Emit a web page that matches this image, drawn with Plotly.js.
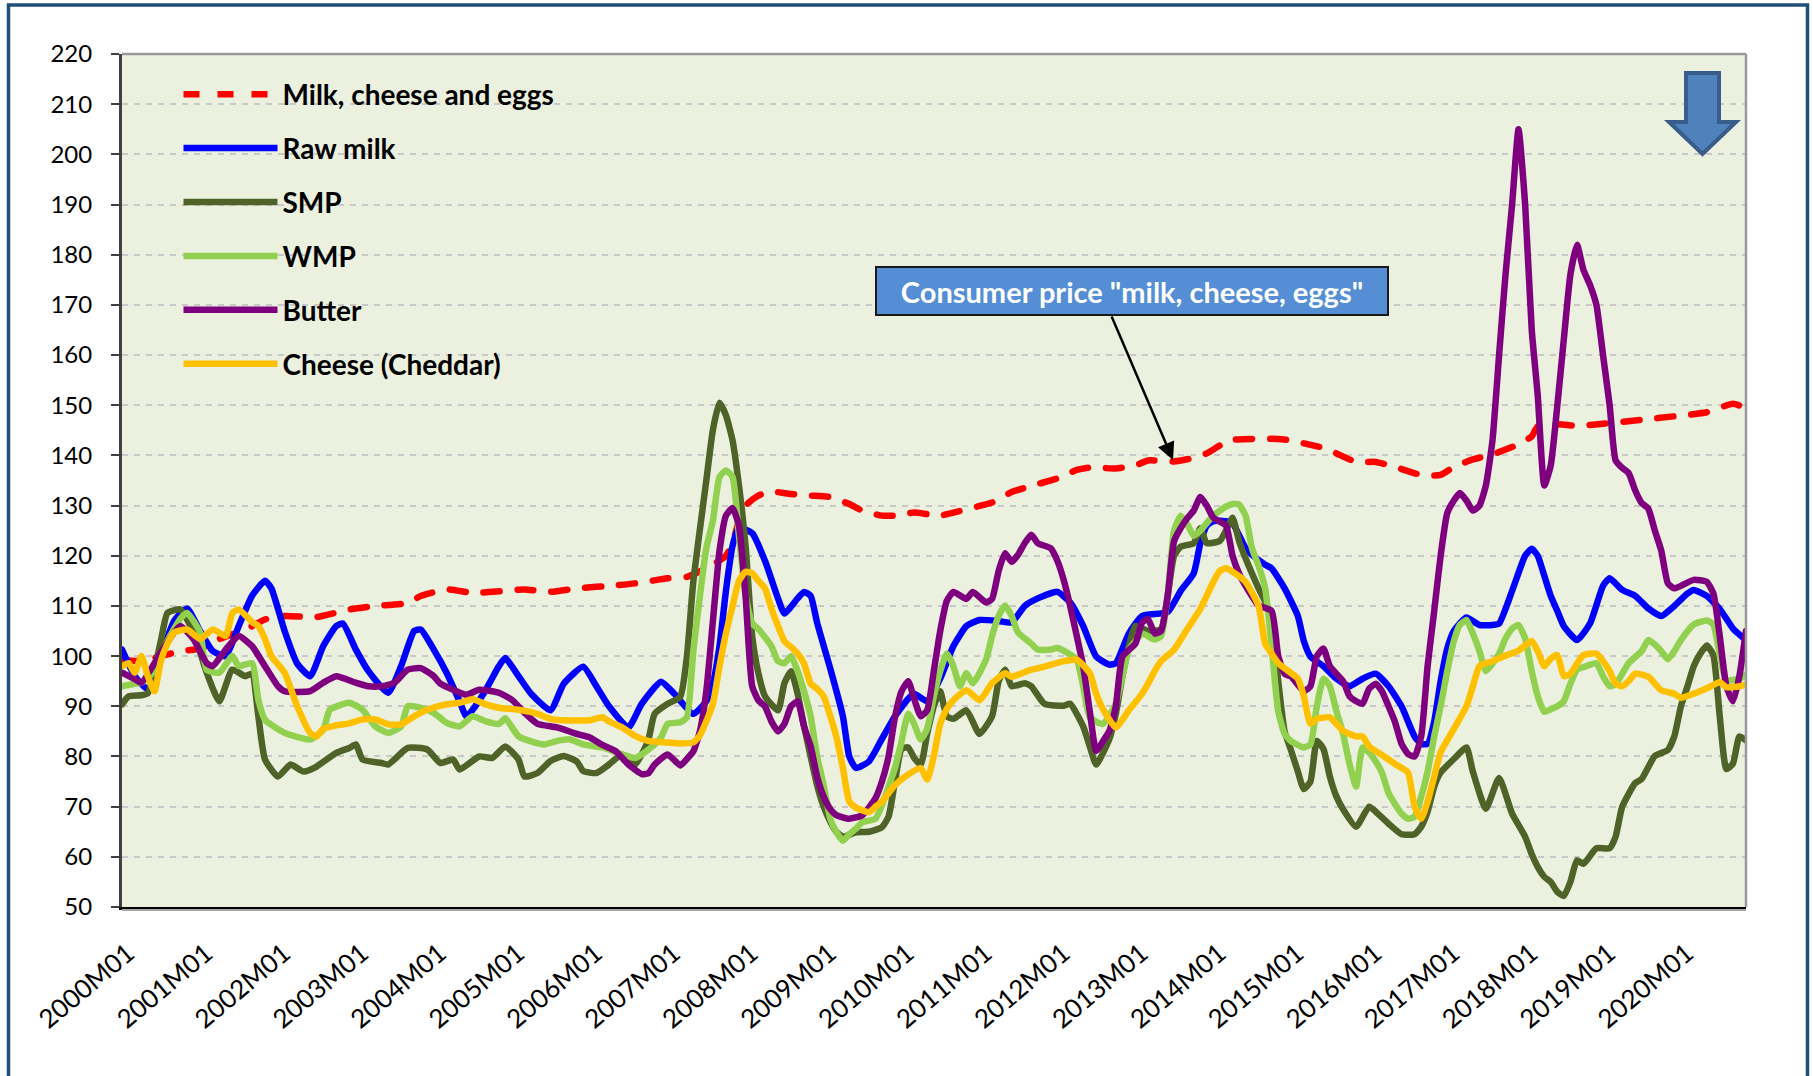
<!DOCTYPE html>
<html>
<head>
<meta charset="utf-8">
<script src="https://cdn.plot.ly/plotly-3.0.1.min.js"></script>
<style>
html, body { margin: 0; padding: 0; background: #ffffff; }
#chart { width: 1813px; height: 1076px; }
#chart .scatterlayer path.js-line { stroke-linecap: round; stroke-linejoin: round; }
</style>
</head>
<body>
<div id="chart"></div>
<script>
// ---------- DATA ----------
const tickLabels = ["2000M01","2001M01","2002M01","2003M01","2004M01","2005M01","2006M01","2007M01","2008M01","2009M01","2010M01","2011M01","2012M01","2013M01","2014M01","2015M01","2016M01","2017M01","2018M01","2019M01","2020M01"];

const seriesNames = ["Milk, cheese and eggs","Raw milk","SMP","WMP","Butter","Cheese (Cheddar)"];

const cpiMonths = ["2000M01","2000M04","2000M07","2000M10","2001M01","2001M04","2001M08","2001M11","2002M02","2002M07","2002M12","2003M04","2003M09","2003M11","2004M03","2004M07","2004M12","2005M03","2005M07","2005M11","2006M05","2006M08","2007M01","2007M04","2007M07","2007M10","2007M11","2007M12","2008M01","2008M03","2008M05","2008M08","2008M11","2009M02","2009M05","2009M07","2009M10","2009M12","2010M03","2010M05","2010M07","2010M09","2010M12","2011M03","2011M06","2011M10","2012M01","2012M04","2012M06","2012M10","2013M01","2013M03","2013M07","2013M10","2013M12","2014M02","2014M04","2014M10","2015M01","2015M03","2015M06","2015M08","2015M11","2016M02","2016M05","2016M09","2016M12","2017M02","2017M05","2017M08","2017M12","2018M02","2018M03","2018M05","2018M09","2019M01","2019M07","2019M12","2020M05","2020M09","2020M11"];
const cpiValues = [99.3,99,100,101,101.5,103.4,105.3,107.3,108,107.8,109.3,110,110.6,112,113.3,112.6,113,113.3,112.8,113.5,114.1,114.5,115.5,115.8,117.5,120,122.5,127,130,132,132.8,132.3,132,131.7,130.3,129,128,128,128.6,128.3,128,128.6,129.6,130.6,132.7,134.3,135.4,137.1,137.6,137.4,138,139,138.8,139.5,140.4,142,143.1,143.3,143,142.4,141.5,140.4,138.7,138.7,137.7,136.1,136.1,137.7,139.2,140.2,142.2,143.8,145.8,146.3,145.9,146.3,147.1,147.8,148.6,150.3,149.4];

const rawMilkMonths = ["2000M01","2000M03","2000M05","2000M07","2000M09","2000M11","2001M01","2001M03","2001M05","2001M07","2001M09","2001M11","2001M12","2002M02","2002M04","2002M06","2002M08","2002M10","2002M11","2003M01","2003M03","2003M06","2003M08","2003M10","2003M11","2004M01","2004M03","2004M05","2004M06","2004M07","2004M09","2004M11","2004M12","2005M02","2005M04","2005M07","2005M09","2005M12","2006M02","2006M04","2006M07","2006M09","2006M12","2007M02","2007M05","2007M07","2007M08","2007M09","2007M10","2007M11","2007M12","2008M02","2008M04","2008M06","2008M07","2008M09","2008M10","2008M11","2008M12","2009M02","2009M04","2009M05","2009M06","2009M08","2009M10","2009M12","2010M02","2010M03","2010M05","2010M07","2010M09","2010M11","2011M01","2011M04","2011M06","2011M08","2011M10","2012M01","2012M03","2012M05","2012M07","2012M09","2012M10","2012M12","2013M02","2013M06","2013M08","2013M10","2013M11","2013M12","2014M01","2014M03","2014M04","2014M06","2014M07","2014M09","2014M10","2014M12","2015M02","2015M03","2015M04","2015M06","2015M08","2015M10","2015M12","2016M02","2016M04","2016M06","2016M08","2016M09","2016M10","2016M11","2016M12","2017M01","2017M02","2017M04","2017M06","2017M08","2017M09","2017M11","2018M01","2018M02","2018M03","2018M04","2018M05","2018M06","2018M07","2018M09","2018M11","2019M01","2019M02","2019M04","2019M06","2019M08","2019M10","2019M12","2020M02","2020M03","2020M05","2020M07","2020M09","2020M11"];
const rawMilkValues = [101.3,96,93.4,100,107,109.5,105,101,100,106,112,115,113.5,105,98.5,96,102,106,106.5,101.3,97,92.7,98,105,105.3,101.3,96.7,91,88,89.3,93.3,98,99.6,96,92.5,89.2,94.5,97.9,94,90,85.8,90.5,94.9,92.5,88.5,91,94.5,102,113,122,125.6,124.5,119,111.5,108.5,111.5,112.8,112,106.7,97.5,88,80,77.7,79,83.5,88,91.5,92.5,91,95.5,102,106,107.2,107,106.7,110,111.5,112.8,110.7,106,99.9,98.3,98.6,104.5,108,108.8,113,116.5,122.5,126,126.9,126.9,126.5,121.5,120.2,118.2,117.5,113.5,108,103,99.9,98,95.5,94,95.5,96.5,94,90,84,82.5,82.5,87,95,101.5,105,107.7,106.2,106.2,106.5,113,120,121.4,120,116,112,109,106,103.2,106.5,114,115.5,113.2,112,109.5,108,110,112.5,113.2,112,109.4,105.5,103.2];

const smpMonths = ["2000M01","2000M02","2000M04","2000M05","2000M07","2000M08","2000M10","2000M12","2001M02","2001M04","2001M06","2001M08","2001M09","2001M10","2001M11","2002M01","2002M03","2002M05","2002M07","2002M10","2002M12","2003M01","2003M02","2003M05","2003M06","2003M09","2003M12","2004M02","2004M04","2004M05","2004M08","2004M10","2004M12","2005M02","2005M03","2005M05","2005M07","2005M09","2005M11","2005M12","2006M02","2006M04","2006M06","2006M08","2006M10","2006M11","2007M01","2007M03","2007M04","2007M05","2007M07","2007M08","2007M09","2007M10","2007M11","2007M12","2008M01","2008M02","2008M03","2008M04","2008M06","2008M07","2008M08","2008M09","2008M10","2008M11","2008M12","2009M01","2009M02","2009M03","2009M04","2009M06","2009M08","2009M10","2009M11","2009M12","2010M01","2010M02","2010M03","2010M04","2010M05","2010M06","2010M07","2010M08","2010M09","2010M11","2011M01","2011M03","2011M04","2011M05","2011M06","2011M08","2011M09","2011M11","2012M02","2012M03","2012M05","2012M06","2012M07","2012M09","2012M10","2012M11","2012M12","2013M01","2013M03","2013M05","2013M06","2013M07","2013M08","2013M10","2013M11","2013M12","2014M02","2014M03","2014M04","2014M05","2014M06","2014M08","2014M10","2014M11","2014M12","2015M01","2015M02","2015M03","2015M04","2015M05","2015M06","2015M07","2015M08","2015M09","2015M11","2016M01","2016M02","2016M04","2016M06","2016M08","2016M09","2016M10","2016M11","2016M12","2017M02","2017M04","2017M05","2017M07","2017M09","2017M11","2018M01","2018M02","2018M03","2018M04","2018M05","2018M06","2018M07","2018M08","2018M09","2018M10","2018M12","2019M02","2019M03","2019M04","2019M06","2019M07","2019M09","2019M11","2019M12","2020M01","2020M02","2020M03","2020M04","2020M05","2020M06","2020M07","2020M08","2020M09","2020M10","2020M11"];
const smpValues = [90.4,92,92.2,92.6,103,108.6,109.3,104.7,96.7,91,97.3,96,96.5,88,79.4,76,78.4,77,78,80.7,81.7,82.4,79.4,78.7,78.4,81.7,81.4,78.7,79.4,77.4,80,79.7,82,79.4,76,76.7,79.1,80.1,79,77.1,76.7,78.4,80.4,78.4,83.1,88.5,90.5,91.9,99.9,114.8,135,145.1,150.5,148,143,134,122,104,96.6,92,89.2,94.6,97,92.5,86,80,74.3,70,67,65,64,64.9,65,65.9,68,75,81.5,81.8,79.7,78.4,84.5,90,93,88,87.5,89.2,84.5,88,95,97.3,94,94.6,94,90.5,90.1,90.5,86,82,78.4,83.5,88.5,96,102,106,105,105.4,112,120,121.8,122.5,125.5,122.5,123,125,127.6,123,119.5,113.5,108,95,85,81.1,77,73.5,75,83.1,81.5,76,72,69.5,66,70,69,66.6,64.5,64.5,66,69,74,76.8,79.5,81.8,77,69.6,75.7,68.6,64,60.5,58,56,55,53,52.2,55,59.3,58.6,61.7,61.7,64,70,74.7,75.5,80.1,81.3,84,90,94,98,100.5,102.1,100.2,88,77.5,78.6,84,83.2];

const wmpMonths = ["2000M01","2000M03","2000M04","2000M06","2000M08","2000M10","2000M11","2001M01","2001M02","2001M04","2001M06","2001M07","2001M09","2001M10","2001M11","2002M02","2002M06","2002M08","2002M09","2002M12","2003M02","2003M04","2003M06","2003M08","2003M09","2003M11","2004M01","2004M03","2004M05","2004M07","2004M09","2004M11","2004M12","2005M02","2005M04","2005M06","2005M08","2005M10","2005M12","2006M03","2006M06","2006M08","2006M09","2006M11","2006M12","2007M01","2007M03","2007M04","2007M05","2007M06","2007M07","2007M08","2007M09","2007M10","2007M11","2007M12","2008M01","2008M02","2008M03","2008M05","2008M06","2008M07","2008M08","2008M09","2008M10","2008M11","2008M12","2009M01","2009M02","2009M03","2009M04","2009M05","2009M06","2009M07","2009M09","2009M10","2009M11","2009M12","2010M01","2010M02","2010M03","2010M04","2010M05","2010M06","2010M07","2010M08","2010M09","2010M10","2010M11","2010M12","2011M02","2011M03","2011M04","2011M05","2011M06","2011M07","2011M09","2011M10","2011M12","2012M01","2012M03","2012M04","2012M05","2012M06","2012M08","2012M10","2012M11","2012M12","2013M01","2013M02","2013M04","2013M05","2013M06","2013M07","2013M08","2013M09","2013M10","2013M11","2013M12","2014M01","2014M03","2014M04","2014M05","2014M06","2014M07","2014M08","2014M09","2014M10","2014M11","2014M12","2015M01","2015M03","2015M04","2015M05","2015M06","2015M07","2015M08","2015M09","2015M10","2015M11","2015M12","2016M01","2016M02","2016M03","2016M04","2016M06","2016M07","2016M08","2016M09","2016M10","2016M11","2016M12","2017M01","2017M02","2017M03","2017M04","2017M05","2017M06","2017M07","2017M08","2017M09","2017M10","2017M11","2017M12","2018M01","2018M02","2018M03","2018M04","2018M05","2018M06","2018M07","2018M08","2018M09","2018M10","2018M12","2019M01","2019M02","2019M03","2019M05","2019M07","2019M08","2019M09","2019M10","2019M11","2019M12","2020M01","2020M03","2020M05","2020M06","2020M07","2020M08","2020M10","2020M11"];
const wmpValues = [94,94.5,94.7,97,103,107.5,108.6,104.7,97.3,96.7,100,98,98.6,91.3,87.3,84.7,83.4,85.3,89.3,90.7,89.3,86,84.7,86,90,89.7,88.7,86.7,86,88,87,86.5,87.6,84,83,82.4,83.1,83.4,82.4,81.8,80.4,79.7,80.4,82.4,83.8,86.5,86.8,87.8,101,112,121.5,127,135.7,137,135.7,124,112,106.5,105.4,102,99,98.6,100,97,93,88,80,74.3,67.6,65,63.2,64.5,65.6,66.9,67.6,70.3,74,77.7,83,88.5,86.5,83.4,85.5,92,97,100.5,98,94,96.6,94.6,99.3,104,108,110.1,108,104.7,102.5,101.3,101.3,101.6,100.3,99.3,94,87.8,86.5,90.5,96,101.3,103,104.5,103.3,104,112,125,128,126.3,124,125,126.5,128,129.8,130.3,130.2,128,121.5,118,113.5,102,89,84.5,83,81.8,82.4,90,95.5,94,89,84.5,78.5,74,81.8,80.8,79,76.8,72.7,68.6,67.6,68,72,77,84,90,97,103,106.2,107.2,104.5,101,97,98.5,100.5,103.5,105.5,106.2,103.5,97,92,88.9,89.4,90,91,94.5,97.3,97.8,98.6,96,94,94.4,98.6,101,103.2,102.3,101,99.4,101,103.2,106.3,107.1,106.3,100.2,95.2,95.5,96.3];

const butterMonths = ["2000M01","2000M03","2000M04","2000M07","2000M09","2000M10","2000M12","2001M02","2001M03","2001M05","2001M07","2001M09","2001M11","2002M01","2002M02","2002M06","2002M08","2002M10","2003M01","2003M03","2003M05","2003M07","2003M09","2003M11","2004M01","2004M02","2004M04","2004M06","2004M08","2004M11","2005M01","2005M03","2005M05","2005M08","2005M11","2006M01","2006M03","2006M05","2006M07","2006M09","2006M10","2006M11","2007M01","2007M03","2007M04","2007M05","2007M06","2007M07","2007M08","2007M09","2007M10","2007M11","2007M12","2008M01","2008M02","2008M03","2008M04","2008M05","2008M06","2008M07","2008M08","2008M09","2008M10","2008M11","2008M12","2009M01","2009M02","2009M03","2009M05","2009M07","2009M09","2009M10","2009M11","2009M12","2010M01","2010M02","2010M03","2010M04","2010M05","2010M06","2010M07","2010M08","2010M09","2010M11","2010M12","2011M02","2011M03","2011M04","2011M05","2011M06","2011M07","2011M08","2011M09","2011M10","2011M12","2012M01","2012M02","2012M03","2012M04","2012M05","2012M06","2012M07","2012M08","2012M09","2012M10","2012M11","2013M01","2013M02","2013M03","2013M04","2013M05","2013M06","2013M07","2013M08","2013M09","2013M10","2013M11","2013M12","2014M01","2014M03","2014M04","2014M05","2014M06","2014M08","2014M10","2014M11","2014M12","2015M01","2015M03","2015M04","2015M05","2015M06","2015M07","2015M09","2015M10","2015M11","2015M12","2016M01","2016M02","2016M03","2016M04","2016M05","2016M06","2016M07","2016M08","2016M09","2016M10","2016M11","2016M12","2017M01","2017M02","2017M03","2017M04","2017M05","2017M06","2017M07","2017M08","2017M09","2017M10","2017M11","2017M12","2018M01","2018M02","2018M03","2018M04","2018M05","2018M06","2018M07","2018M08","2018M09","2018M10","2018M11","2018M12","2019M01","2019M02","2019M03","2019M04","2019M05","2019M06","2019M07","2019M08","2019M09","2019M10","2019M11","2019M12","2020M01","2020M03","2020M05","2020M06","2020M07","2020M08","2020M09","2020M10","2020M11"];
const butterValues = [96.7,95.4,94.7,100.7,104.7,106,103.4,98.6,98,101.3,104,102,98,94,93,93,94.7,96,94.7,94,94,94.7,97.3,97.6,96,94.5,93.3,92.3,93.3,92.7,91.3,88.7,86.5,85.8,84.5,83.8,82.3,81.1,78.4,76.5,76.6,78.4,80.4,78.2,79.5,81,85,93,107,121,128,129.5,126,112,94,91.2,90,87,85,86.5,90,91,86,82,76,72,69.5,68.3,67.6,68.3,71.7,75,80,87.8,93,95,91.5,88,89.2,97,105,111,112.8,111.4,112.8,110.7,111.4,117,120.5,118.8,120.2,122.5,124.2,122.5,121.5,119,115,110,104,98,89,81.1,83,85.1,90,99.9,102.5,106.7,107.4,104.5,105,112,122.9,125.5,127.5,129,131.7,130,127.6,126,120,116.5,114,110.1,109,100,96.5,95.9,93,94,100,101.5,98,95,92,91,90.5,93.5,94.5,93,90,86.9,82.5,80.5,80,84,98,109,120,128.5,131,132.5,131,129,130,134,143,160,176,190,205,190,165,152,134,138,150,163,176,182,177,174,170,160,150,139,137.5,136.5,133,130.5,129.4,125,121,114.5,113.5,114,115.2,114.8,112.5,104,94,91,96,105];

const cheeseMonths = ["2000M01","2000M02","2000M03","2000M04","2000M05","2000M06","2000M07","2000M08","2000M09","2000M11","2001M01","2001M03","2001M05","2001M06","2001M07","2001M09","2001M10","2001M11","2001M12","2002M02","2002M04","2002M06","2002M07","2002M08","2002M10","2002M12","2003M02","2003M04","2003M06","2003M08","2003M10","2003M12","2004M03","2004M05","2004M07","2004M09","2004M11","2005M02","2005M05","2005M07","2005M09","2006M01","2006M03","2006M04","2006M06","2006M08","2006M10","2007M01","2007M03","2007M05","2007M06","2007M07","2007M08","2007M09","2007M10","2007M11","2007M12","2008M01","2008M02","2008M03","2008M04","2008M05","2008M06","2008M07","2008M08","2008M09","2008M10","2008M11","2008M12","2009M01","2009M02","2009M03","2009M04","2009M05","2009M06","2009M08","2009M09","2009M10","2009M12","2010M02","2010M04","2010M05","2010M06","2010M07","2010M08","2010M09","2010M11","2011M01","2011M03","2011M05","2011M06","2011M09","2011M11","2012M02","2012M04","2012M06","2012M07","2012M08","2012M10","2012M12","2013M02","2013M03","2013M04","2013M05","2013M07","2013M09","2013M11","2014M01","2014M02","2014M03","2014M04","2014M06","2014M08","2014M09","2014M10","2014M11","2015M01","2015M02","2015M03","2015M04","2015M05","2015M07","2015M08","2015M09","2015M11","2015M12","2016M01","2016M03","2016M05","2016M07","2016M08","2016M09","2016M10","2016M11","2016M12","2017M02","2017M04","2017M05","2017M06","2017M08","2017M10","2017M12","2018M02","2018M03","2018M04","2018M05","2018M06","2018M07","2018M08","2018M09","2018M10","2018M12","2019M01","2019M02","2019M03","2019M04","2019M05","2019M06","2019M08","2019M10","2019M12","2020M01","2020M03","2020M05","2020M07","2020M08","2020M10","2020M11"];
const cheeseValues = [98,98.6,96.7,100,96,93,99,102.5,104.7,105.3,103.4,105.3,104,108.6,109.3,106.8,106,103.4,100,96.7,90,84.7,84,85.5,86.2,86.6,87.4,87.4,86.4,86.4,88,89.3,90.4,90.7,91.4,90.4,89.7,89.3,88.5,87.5,87.2,87.2,87.8,87,85.8,84.1,83.1,82.8,82.6,82.8,84.2,87,90.5,98,104.5,110,115,116.8,116.5,115,113.5,109.5,106,103,101.8,100.5,98.5,94.5,93.5,92,88,84,77.7,71,69.8,68.9,70,71,74.3,76.4,77.7,75.4,80,86.5,89.5,91.2,93.2,91.2,94.6,96.6,95.9,97.3,97.9,99,99.3,96.6,92.5,89.5,85.8,89.2,92.5,94.5,97,99,101.3,105.4,109.4,114.8,117,117.5,116.8,114.8,110,102.5,100.5,98.6,96.6,95.5,92,86.5,87.5,87.8,86.5,85.1,84,84,82,80.3,78.5,76.8,70,67.6,71,76,80.8,85.5,90,94,98,99,100.1,101.1,103,101,98,99.5,100.2,96,96.5,98.5,100.2,100.5,99,97,94.5,94,95,96.5,95.9,93.2,92.5,91.7,92.5,93.6,94.8,93.8,94,94.4];

// ---------- helpers ----------
const toDate = (lbl) => lbl.replace('M', '-') + '-01';
const tickVals = tickLabels.map(toDate);

const colors = ['#FF0000', '#0000FF', '#4F6228', '#92D050', '#7F007F', '#FFC000'];
const monthsList = [cpiMonths, rawMilkMonths, smpMonths, wmpMonths, butterMonths, cheeseMonths];
const valuesList = [cpiValues, rawMilkValues, smpValues, wmpValues, butterValues, cheeseValues];

const traces = seriesNames.map((name, i) => ({
  type: 'scatter',
  mode: 'lines',
  name: name,
  legendgroup: 'g' + i,
  x: monthsList[i].map(toDate),
  y: valuesList[i],
  line: {
    color: colors[i],
    width: 6.5,
    shape: 'spline',
    smoothing: 0.5,
    dash: i === 0 ? '16px,18px' : 'solid'
  },
  hoverinfo: 'skip'
}));

// plot-area geometry helpers (paper coords)
const PL = 122, PR = 1746, PT = 54, PB = 907;
const px = (X) => (X - PL) / (PR - PL);
const py = (Y) => (PB - Y) / (PB - PT);

const arrowPath = 'M' + [
  [1686, 73], [1719, 73], [1719, 122], [1736, 122], [1702.5, 154], [1669, 122], [1686, 122]
].map(p => px(p[0]) + ',' + py(p[1])).join(' L') + ' Z';

const layout = {
  width: 1813,
  height: 1076,
  margin: { l: PL, r: 1813 - PR, t: PT, b: 1076 - PB, pad: 0 },
  paper_bgcolor: '#FFFFFF',
  plot_bgcolor: '#EBF1DE',
  font: { family: 'Lato, "Open Sans", sans-serif', size: 24, color: '#000000' },
  showlegend: true,
  legend: {
    x: px(178.5), y: py(69.5), xanchor: 'left', yanchor: 'top',
    bgcolor: 'rgba(0,0,0,0)',
    font: { size: 28, weight: 'bold', color: '#000000' },
    itemwidth: 94,
    tracegroupgap: 14.5,
    traceorder: 'grouped'
  },
  xaxis: {
    type: 'date',
    range: ['2000-01-01', '2020-11-01'],
    tickmode: 'array',
    tickvals: tickVals,
    ticktext: tickLabels,
    tickangle: -40,
    ticks: '',
    showgrid: false,
    zeroline: false,
    showline: true,
    linecolor: '#000000',
    linewidth: 3,
    ticklabelstandoff: 18,
    ticklabelshift: 6,
    tickfont: { size: 26, color: '#000000' },
    fixedrange: true
  },
  yaxis: {
    range: [50, 220],
    tick0: 50,
    dtick: 10,
    ticks: 'outside',
    ticklen: 8,
    tickwidth: 2,
    tickcolor: '#404040',
    showline: true,
    linecolor: '#404040',
    linewidth: 3,
    showgrid: true,
    gridcolor: '#C8C8C8',
    gridwidth: 2,
    griddash: '6px,6px',
    zeroline: false,
    ticklabelstandoff: 14,
    tickfont: { size: 24, color: '#000000' },
    fixedrange: true
  },
  shapes: [
    { type: 'line', xref: 'paper', yref: 'paper', x0: 0, x1: 1, y0: 1, y1: 1, line: { color: '#9A9A9A', width: 2.5 }, layer: 'above' },
    { type: 'line', xref: 'paper', yref: 'paper', x0: 1, x1: 1, y0: 0, y1: 1, line: { color: '#9A9A9A', width: 2.5 }, layer: 'above' },
    { type: 'line', xref: 'paper', yref: 'paper', x0: 0, x1: 1, y0: py(910), y1: py(910), line: { color: '#A6A6A6', width: 2 }, layer: 'above' },
    { type: 'rect', xref: 'paper', yref: 'paper', x0: px(8.5), x1: px(1807.5), y0: py(5), y1: py(1090), line: { color: '#1F4E79', width: 3.5 }, fillcolor: 'rgba(0,0,0,0)', layer: 'above' },
    { type: 'path', xref: 'paper', yref: 'paper', path: arrowPath, fillcolor: '#4F81BD', line: { color: '#385D8A', width: 4 }, layer: 'above' }
  ],
  annotations: [
    {
      xref: 'paper', yref: 'paper', x: px(1131.5), y: py(291), xanchor: 'center', yanchor: 'middle',
      text: 'Consumer price "milk, cheese, eggs"', showarrow: false,
      bgcolor: '#558ED5', bordercolor: '#1A1A1A', borderwidth: 2, borderpad: 5,
      width: 500, height: 36,
      font: { color: '#FFFFFF', size: 29, weight: 'bold' }
    },
    {
      xref: 'paper', yref: 'paper', x: px(1173), y: py(460), text: '', showarrow: true,
      ax: -62, ay: -145, arrowhead: 2, arrowsize: 1.4, arrowwidth: 2.5, arrowcolor: '#000000', standoff: 0
    }
  ]
};

Plotly.newPlot('chart', traces, layout, { displayModeBar: false, staticPlot: true });
</script>
</body>
</html>
